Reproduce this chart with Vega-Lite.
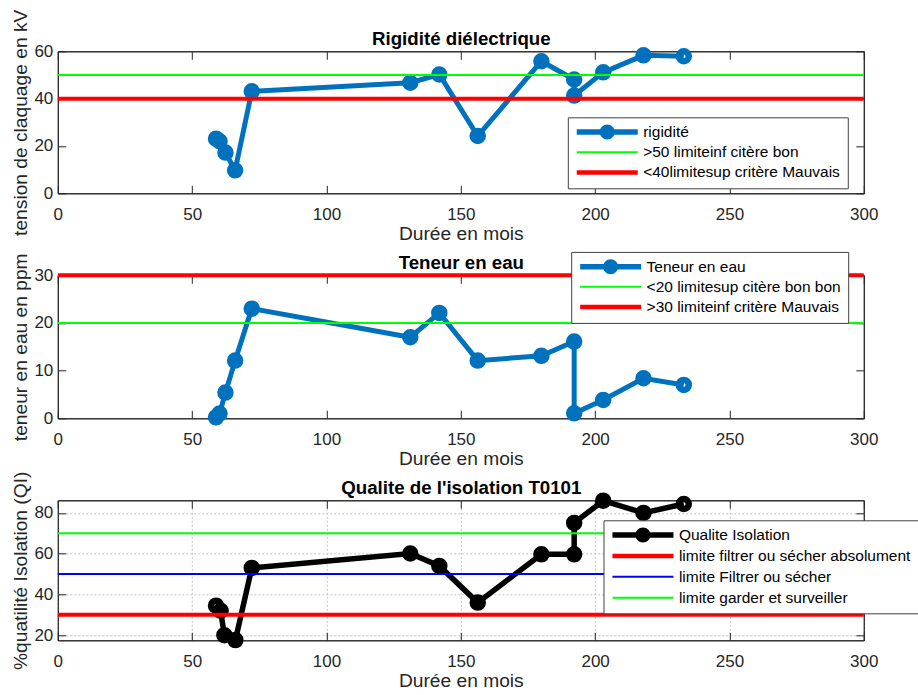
{
  "$schema": "https://vega.github.io/schema/vega-lite/v6.json",
  "autosize": {"type": "pad"},
  "padding": {"left": 10.8, "top": 8.3, "right": 0, "bottom": 0},
  "background": "#ffffff",
  "bounds": "flush",
  "spacing": 82,
  "resolve": {
    "scale": {"color": "independent", "shape": "independent"},
    "legend": {"color": "independent", "shape": "independent"}
  },
  "vconcat": [
    {
      "width": 806,
      "height": 142,
      "data": {"values": [
        {"i": 1, "x": 58.9, "y": 23.1, "serie": "rigidité"},
        {"i": 2, "x": 60.2, "y": 22.0, "serie": "rigidité"},
        {"i": 3, "x": 62.4, "y": 17.2, "serie": "rigidité"},
        {"i": 4, "x": 66.0, "y": 9.7, "serie": "rigidité"},
        {"i": 5, "x": 72.2, "y": 43.1, "serie": "rigidité"},
        {"i": 6, "x": 131.2, "y": 46.7, "serie": "rigidité"},
        {"i": 7, "x": 142.0, "y": 50.2, "serie": "rigidité"},
        {"i": 8, "x": 156.3, "y": 24.2, "serie": "rigidité"},
        {"i": 9, "x": 180.0, "y": 55.8, "serie": "rigidité"},
        {"i": 10, "x": 192.2, "y": 48.1, "serie": "rigidité"},
        {"i": 11, "x": 192.2, "y": 41.3, "serie": "rigidité"},
        {"i": 12, "x": 203.0, "y": 51.1, "serie": "rigidité"},
        {"i": 13, "x": 218.0, "y": 58.3, "serie": "rigidité"},
        {"i": 14, "x": 233.0, "y": 57.9, "serie": "rigidité"}
      ]},
      "resolve": {"axis": {"x": "independent", "y": "independent"}},
      "layer": [
        {
          "data": {"values": [
            {"v": 50, "serie": ">50 limiteinf citère bon"},
            {"v": 40, "serie": "<40limitesup critère Mauvais"}
          ]},
          "mark": {"type": "point", "filled": true, "opacity": 0},
          "encoding": {
            "y": {"field": "v", "type": "quantitative", "scale": {"domain": [0, 60], "nice": false}, "axis": null},
            "color": {"field": "serie", "type": "nominal",
              "scale": {"domain": ["rigidité", ">50 limiteinf citère bon", "<40limitesup critère Mauvais"], "range": ["#0072BD", "#00FF00", "#FF0000"]},
              "legend": {"orient": "none", "legendX": 510, "legendY": 66, "title": null}},
            "shape": {"field": "serie", "type": "nominal",
              "scale": {"domain": ["rigidité", ">50 limiteinf citère bon", "<40limitesup critère Mauvais"],
                        "range": ["M-6.1,-0.55H6.1V0.55H-6.1ZM-1.5,0A1.5,1.5 0 1,1 1.5,0A1.5,1.5 0 1,1 -1.5,0Z", "M-6.1,-0.2H6.1V0.2H-6.1Z", "M-6.1,-0.45H6.1V0.45H-6.1Z"]},
              "legend": {"orient": "none", "legendX": 510, "legendY": 66, "title": null}}
          }
        },
        {
          "mark": {"type": "line", "strokeWidth": 5},
          "encoding": {
            "x": {"field": "x", "type": "quantitative", "scale": {"domain": [0, 300], "nice": false},
                  "axis": {"orient": "bottom", "values": [0, 50, 100, 150, 200, 250, 300], "title": "Durée en mois"}},
            "y": {"field": "y", "type": "quantitative", "axis": {"orient": "left", "values": [0, 20, 40, 60], "title": "tension de claquage en kV"}},
            "order": {"field": "i", "type": "quantitative"},
            "color": {"field": "serie", "type": "nominal",
              "scale": {"domain": ["rigidité", ">50 limiteinf citère bon", "<40limitesup critère Mauvais"], "range": ["#0072BD", "#00FF00", "#FF0000"]},
              "legend": {"orient": "none", "legendX": 510, "legendY": 66, "title": null}}
          }
        },
        {
          "mark": {"type": "point", "shape": "circle", "filled": false, "size": 100, "strokeWidth": 6.5, "stroke": "#0072BD", "opacity": 1},
          "encoding": {
            "x": {"field": "x", "type": "quantitative", "axis": {"orient": "top", "values": [0, 50, 100, 150, 200, 250, 300], "labels": false,
                  "title": "Rigidité diélectrique", "titleFontWeight": "bold", "titleColor": "#000000", "titlePadding": 2.5, "titleFontSize": 18.7}},
            "y": {"field": "y", "type": "quantitative", "axis": {"orient": "right", "values": [0, 20, 40, 60], "labels": false, "title": null}}
          }
        },
        {
          "data": {"values": [{"v": 50, "serie": ">50 limiteinf citère bon"}]},
          "mark": {"type": "rule", "strokeWidth": 2},
          "encoding": {
            "y": {"field": "v", "type": "quantitative", "axis": null},
            "color": {"field": "serie", "type": "nominal",
              "scale": {"domain": ["rigidité", ">50 limiteinf citère bon", "<40limitesup critère Mauvais"], "range": ["#0072BD", "#00FF00", "#FF0000"]},
              "legend": {"orient": "none", "legendX": 510, "legendY": 66, "title": null}}
          }
        },
        {
          "data": {"values": [{"v": 40, "serie": "<40limitesup critère Mauvais"}]},
          "mark": {"type": "rule", "strokeWidth": 4},
          "encoding": {
            "y": {"field": "v", "type": "quantitative", "axis": null},
            "color": {"field": "serie", "type": "nominal",
              "scale": {"domain": ["rigidité", ">50 limiteinf citère bon", "<40limitesup critère Mauvais"], "range": ["#0072BD", "#00FF00", "#FF0000"]},
              "legend": {"orient": "none", "legendX": 510, "legendY": 66, "title": null}}
          }
        }
      ]
    },
    {
      "width": 806,
      "height": 143,
      "data": {"values": [
        {"i": 1, "x": 58.9, "y": 0.2, "serie": "Teneur en eau"},
        {"i": 2, "x": 60.2, "y": 1.0, "serie": "Teneur en eau"},
        {"i": 3, "x": 62.4, "y": 5.4, "serie": "Teneur en eau"},
        {"i": 4, "x": 66.0, "y": 12.1, "serie": "Teneur en eau"},
        {"i": 5, "x": 72.2, "y": 23.0, "serie": "Teneur en eau"},
        {"i": 6, "x": 131.2, "y": 17.0, "serie": "Teneur en eau"},
        {"i": 7, "x": 142.0, "y": 22.1, "serie": "Teneur en eau"},
        {"i": 8, "x": 156.3, "y": 12.1, "serie": "Teneur en eau"},
        {"i": 9, "x": 180.0, "y": 13.1, "serie": "Teneur en eau"},
        {"i": 10, "x": 192.2, "y": 16.1, "serie": "Teneur en eau"},
        {"i": 11, "x": 192.2, "y": 1.05, "serie": "Teneur en eau"},
        {"i": 12, "x": 203.0, "y": 3.85, "serie": "Teneur en eau"},
        {"i": 13, "x": 218.0, "y": 8.4, "serie": "Teneur en eau"},
        {"i": 14, "x": 233.0, "y": 7.0, "serie": "Teneur en eau"}
      ]},
      "resolve": {"axis": {"x": "independent", "y": "independent"}},
      "layer": [
        {
          "data": {"values": [
            {"v": 20, "serie": "<20 limitesup citère bon bon"},
            {"v": 30, "serie": ">30 limiteinf critère Mauvais"}
          ]},
          "mark": {"type": "point", "filled": true, "opacity": 0},
          "encoding": {
            "y": {"field": "v", "type": "quantitative", "scale": {"domain": [0, 30], "nice": false}, "axis": null},
            "color": {"field": "serie", "type": "nominal",
              "scale": {"domain": ["Teneur en eau", "<20 limitesup citère bon bon", ">30 limiteinf critère Mauvais"], "range": ["#0072BD", "#00FF00", "#FF0000"]},
              "legend": {"orient": "none", "legendX": 513.4, "legendY": -23.4, "title": null}},
            "shape": {"field": "serie", "type": "nominal",
              "scale": {"domain": ["Teneur en eau", "<20 limitesup citère bon bon", ">30 limiteinf critère Mauvais"],
                        "range": ["M-6.1,-0.55H6.1V0.55H-6.1ZM-1.5,0A1.5,1.5 0 1,1 1.5,0A1.5,1.5 0 1,1 -1.5,0Z", "M-6.1,-0.2H6.1V0.2H-6.1Z", "M-6.1,-0.45H6.1V0.45H-6.1Z"]},
              "legend": {"orient": "none", "legendX": 513.4, "legendY": -23.4, "title": null}}
          }
        },
        {
          "mark": {"type": "line", "strokeWidth": 5},
          "encoding": {
            "x": {"field": "x", "type": "quantitative", "scale": {"domain": [0, 300], "nice": false},
                  "axis": {"orient": "bottom", "values": [0, 50, 100, 150, 200, 250, 300], "title": "Durée en mois"}},
            "y": {"field": "y", "type": "quantitative", "axis": {"orient": "left", "values": [0, 10, 20, 30], "title": "teneur en eau en ppm"}},
            "order": {"field": "i", "type": "quantitative"},
            "color": {"field": "serie", "type": "nominal",
              "scale": {"domain": ["Teneur en eau", "<20 limitesup citère bon bon", ">30 limiteinf critère Mauvais"], "range": ["#0072BD", "#00FF00", "#FF0000"]},
              "legend": {"orient": "none", "legendX": 513.4, "legendY": -23.4, "title": null}}
          }
        },
        {
          "mark": {"type": "point", "shape": "circle", "filled": false, "size": 100, "strokeWidth": 6.5, "stroke": "#0072BD", "opacity": 1},
          "encoding": {
            "x": {"field": "x", "type": "quantitative", "axis": {"orient": "top", "values": [0, 50, 100, 150, 200, 250, 300], "labels": false,
                  "title": "Teneur en eau", "titleFontWeight": "bold", "titleColor": "#000000", "titlePadding": 2.5, "titleFontSize": 18.7}},
            "y": {"field": "y", "type": "quantitative", "axis": {"orient": "right", "values": [0, 10, 20, 30], "labels": false, "title": null}}
          }
        },
        {
          "data": {"values": [{"v": 20, "serie": "<20 limitesup citère bon bon"}]},
          "mark": {"type": "rule", "strokeWidth": 2},
          "encoding": {
            "y": {"field": "v", "type": "quantitative", "axis": null},
            "color": {"field": "serie", "type": "nominal",
              "scale": {"domain": ["Teneur en eau", "<20 limitesup citère bon bon", ">30 limiteinf critère Mauvais"], "range": ["#0072BD", "#00FF00", "#FF0000"]},
              "legend": {"orient": "none", "legendX": 513.4, "legendY": -23.4, "title": null}}
          }
        },
        {
          "data": {"values": [{"v": 30, "serie": ">30 limiteinf critère Mauvais"}]},
          "mark": {"type": "rule", "strokeWidth": 4},
          "encoding": {
            "y": {"field": "v", "type": "quantitative", "axis": null},
            "color": {"field": "serie", "type": "nominal",
              "scale": {"domain": ["Teneur en eau", "<20 limitesup citère bon bon", ">30 limiteinf critère Mauvais"], "range": ["#0072BD", "#00FF00", "#FF0000"]},
              "legend": {"orient": "none", "legendX": 513.4, "legendY": -23.4, "title": null}}
          }
        }
      ]
    },
    {
      "width": 806,
      "height": 140,
      "data": {"values": [
        {"i": 1, "x": 58.9, "y": 34.5, "serie": "Qualite Isolation"},
        {"i": 2, "x": 60.6, "y": 32.0, "serie": "Qualite Isolation"},
        {"i": 3, "x": 62.0, "y": 20.0, "serie": "Qualite Isolation"},
        {"i": 4, "x": 66.1, "y": 17.6, "serie": "Qualite Isolation"},
        {"i": 5, "x": 72.2, "y": 53.0, "serie": "Qualite Isolation"},
        {"i": 6, "x": 131.2, "y": 60.1, "serie": "Qualite Isolation"},
        {"i": 7, "x": 142.0, "y": 54.0, "serie": "Qualite Isolation"},
        {"i": 8, "x": 156.3, "y": 36.0, "serie": "Qualite Isolation"},
        {"i": 9, "x": 180.0, "y": 59.7, "serie": "Qualite Isolation"},
        {"i": 10, "x": 192.2, "y": 59.7, "serie": "Qualite Isolation"},
        {"i": 11, "x": 192.2, "y": 75.1, "serie": "Qualite Isolation"},
        {"i": 12, "x": 203.0, "y": 86.0, "serie": "Qualite Isolation"},
        {"i": 13, "x": 218.0, "y": 80.0, "serie": "Qualite Isolation"},
        {"i": 14, "x": 233.0, "y": 84.4, "serie": "Qualite Isolation"}
      ]},
      "resolve": {"axis": {"x": "independent", "y": "independent"}},
      "layer": [
        {
          "data": {"values": [
            {"v": 30, "serie": "limite filtrer ou sécher absolument"},
            {"v": 50, "serie": "limite Filtrer ou sécher"},
            {"v": 70, "serie": "limite garder et surveiller"}
          ]},
          "mark": {"type": "point", "filled": true, "opacity": 0},
          "encoding": {
            "y": {"field": "v", "type": "quantitative", "scale": {"domain": [17.5, 86.2], "nice": false, "zero": false}, "axis": null},
            "color": {"field": "serie", "type": "nominal",
              "scale": {"domain": ["Qualite Isolation", "limite filtrer ou sécher absolument", "limite Filtrer ou sécher", "limite garder et surveiller"], "range": ["#000000", "#FF0000", "#0000FF", "#00FF00"]},
              "legend": {"orient": "none", "legendX": 545.7, "legendY": 20, "title": null, "rowPadding": 3.9}},
            "shape": {"field": "serie", "type": "nominal",
              "scale": {"domain": ["Qualite Isolation", "limite filtrer ou sécher absolument", "limite Filtrer ou sécher", "limite garder et surveiller"],
                        "range": ["M-6.1,-0.55H6.1V0.55H-6.1ZM-1.5,0A1.5,1.5 0 1,1 1.5,0A1.5,1.5 0 1,1 -1.5,0Z", "M-6.1,-0.45H6.1V0.45H-6.1Z", "M-6.1,-0.2H6.1V0.2H-6.1Z", "M-6.1,-0.2H6.1V0.2H-6.1Z"]},
              "legend": {"orient": "none", "legendX": 545.7, "legendY": 20, "title": null, "rowPadding": 3.9}}
          }
        },
        {
          "mark": {"type": "line", "strokeWidth": 5.5},
          "encoding": {
            "x": {"field": "x", "type": "quantitative", "scale": {"domain": [0, 300], "nice": false},
                  "axis": {"orient": "bottom", "values": [0, 50, 100, 150, 200, 250, 300], "title": "Durée en mois", "grid": true, "gridColor": "#c4c4c4", "gridDash": [2, 2]}},
            "y": {"field": "y", "type": "quantitative",
                  "axis": {"orient": "left", "values": [20, 40, 60, 80], "title": "%quatilité Isolation (QI)", "grid": true, "gridColor": "#c4c4c4", "gridDash": [2, 2]}},
            "order": {"field": "i", "type": "quantitative"},
            "color": {"field": "serie", "type": "nominal",
              "scale": {"domain": ["Qualite Isolation", "limite filtrer ou sécher absolument", "limite Filtrer ou sécher", "limite garder et surveiller"], "range": ["#000000", "#FF0000", "#0000FF", "#00FF00"]},
              "legend": {"orient": "none", "legendX": 545.7, "legendY": 20, "title": null, "rowPadding": 3.9}}
          }
        },
        {
          "mark": {"type": "point", "shape": "circle", "filled": false, "size": 100, "strokeWidth": 6.5, "stroke": "#000000", "opacity": 1},
          "encoding": {
            "x": {"field": "x", "type": "quantitative", "axis": {"orient": "top", "values": [0, 50, 100, 150, 200, 250, 300], "labels": false,
                  "title": "Qualite de l'isolation T0101", "titleFontWeight": "bold", "titleColor": "#000000", "titlePadding": 2.5, "titleFontSize": 18.7}},
            "y": {"field": "y", "type": "quantitative", "axis": {"orient": "right", "values": [20, 40, 60, 80], "labels": false, "title": null}}
          }
        },
        {
          "data": {"values": [{"v": 30, "serie": "limite filtrer ou sécher absolument"}]},
          "mark": {"type": "rule", "strokeWidth": 4},
          "encoding": {
            "y": {"field": "v", "type": "quantitative", "axis": null},
            "color": {"field": "serie", "type": "nominal",
              "scale": {"domain": ["Qualite Isolation", "limite filtrer ou sécher absolument", "limite Filtrer ou sécher", "limite garder et surveiller"], "range": ["#000000", "#FF0000", "#0000FF", "#00FF00"]},
              "legend": {"orient": "none", "legendX": 545.7, "legendY": 20, "title": null, "rowPadding": 3.9}}
          }
        },
        {
          "data": {"values": [
            {"v": 50, "serie": "limite Filtrer ou sécher"},
            {"v": 70, "serie": "limite garder et surveiller"}
          ]},
          "mark": {"type": "rule", "strokeWidth": 2},
          "encoding": {
            "y": {"field": "v", "type": "quantitative", "axis": null},
            "color": {"field": "serie", "type": "nominal",
              "scale": {"domain": ["Qualite Isolation", "limite filtrer ou sécher absolument", "limite Filtrer ou sécher", "limite garder et surveiller"], "range": ["#000000", "#FF0000", "#0000FF", "#00FF00"]},
              "legend": {"orient": "none", "legendX": 545.7, "legendY": 20, "title": null, "rowPadding": 3.9}}
          }
        }
      ]
    }
  ],
  "config": {
    "font": "Liberation Sans",
    "view": {"stroke": "#262626", "strokeWidth": 1},
    "axis": {
      "domainColor": "#262626", "tickColor": "#262626", "labelColor": "#262626", "titleColor": "#262626",
      "labelFont": "Liberation Sans", "titleFont": "Liberation Sans",
      "labelFontSize": 17, "titleFontSize": 19.2, "titleFontWeight": "normal",
      "tickSize": -8, "labelPadding": 13, "grid": false, "labelFlush": false, "labelOverlap": false
    },
    "axisX": {"labelPadding": 21, "titlePadding": 2},
    "axisY": {"titlePadding": 3},
    "legend": {
      "labelFont": "Liberation Sans", "labelFontSize": 15.5, "labelColor": "#000000", "labelLimit": 600,
      "symbolSize": 100, "symbolOffset": 24.7, "labelOffset": 28.2, "symbolStrokeWidth": 0,
      "symbolOpacity": 1,
      "strokeColor": "#404040", "fillColor": "#ffffff", "padding": 7, "rowPadding": 3.2,
      "direction": "vertical"
    }
  }
}
